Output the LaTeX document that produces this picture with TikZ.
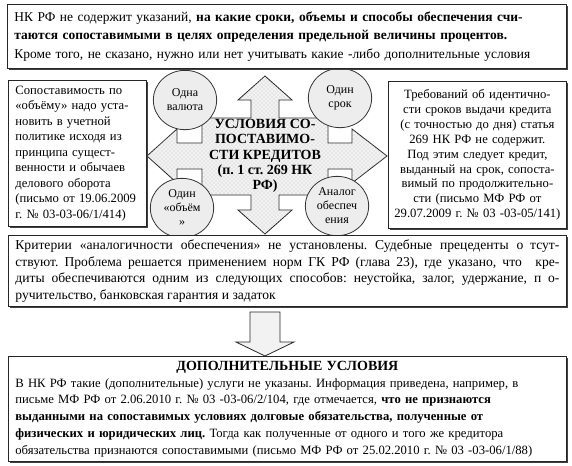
\documentclass[tikz,border=0pt]{standalone}
\usepackage{fontspec}
\setmainfont{Liberation Serif}
\usetikzlibrary{shapes.geometric,shadows,patterns,positioning}
\frenchspacing

\begin{document}
\begin{tikzpicture}[x=0.75pt,y=-0.75pt,
  box/.style={draw=black!85, fill=white, line width=0.6pt, inner ysep=2pt,
    drop shadow={shadow xshift=1.1pt, shadow yshift=-1.1pt, fill=black!75, opacity=1}},
  bubble/.style={ellipse, draw=black!80, fill=gray!14, line width=0.6pt,
    minimum width=47.5pt, minimum height=44.5pt, inner sep=0pt, align=center,
    font=\fontsize{9}{10.5}\selectfont},
  blockarrow/.style={draw=black!85, line width=0.6pt, fill=gray!10}]
\useasboundingbox (0,0) rectangle (572,465);

% the four-way arrow in the middle
\filldraw[blockarrow] (265,76) -- (292,100) -- (279,100) -- (279,118) -- (328,118)
  -- (328,143) -- (352,143) -- (352,129) -- (387,156) -- (352,183) -- (352,169)
  -- (328,169) -- (328,195) -- (279,195) -- (279,210) -- (292,210) -- (265,234)
  -- (238,210) -- (251,210) -- (251,195) -- (202,195) -- (202,169) -- (177,169)
  -- (177,183) -- (147,156) -- (177,129) -- (177,143) -- (202,143) -- (202,118)
  -- (251,118) -- (251,100) -- (238,100) -- cycle;
\path[pattern=crosshatch dots, pattern color=gray!45] (265,76) -- (292,100) -- (279,100) -- (279,118) -- (328,118)
  -- (328,143) -- (352,143) -- (352,129) -- (387,156) -- (352,183) -- (352,169)
  -- (328,169) -- (328,195) -- (279,195) -- (279,210) -- (292,210) -- (265,234)
  -- (238,210) -- (251,210) -- (251,195) -- (202,195) -- (202,169) -- (177,169)
  -- (177,183) -- (147,156) -- (177,129) -- (177,143) -- (202,143) -- (202,118)
  -- (251,118) -- (251,100) -- (238,100) -- cycle;

\node[align=center, font=\bfseries\fontsize{10.5}{11.4}\selectfont] (core) at (265,156)
  {УСЛОВИЯ СО-\\ПОСТАВИМО-\\СТИ КРЕДИТОВ\\(п. 1 ст. 269 НК\\РФ)};

\node[bubble] (valuta) at (185,100) {Одна\\валюта};
\node[bubble] (srok) at (340,98) {Один\\срок};
\node[bubble] (obem) at (182,208) {Один\\«объём\\»};
\node[bubble] (zalog) at (337,206) {Аналог\\обеспеч\\ения};

% boxes
\node[box, anchor=north west, minimum width=419.25pt, minimum height=48pt,
  text width=408.75pt, inner xsep=5.25pt, align=left,
  font=\fontsize{10.1}{13.8}\selectfont] (top) at (7,4)
  {НК РФ не содержит указаний, \textbf{на какие сроки, объемы и способы обеспечения счи-}\\
   \textbf{таются сопоставимыми в целях определения предельной величины процентов.}\\
   Кроме того, не сказано, нужно или нет учитывать какие -либо дополнительные условия};

\node[box, anchor=north west, minimum width=103.5pt, minimum height=109.5pt,
  text width=93pt, inner xsep=5.25pt, align=left,
  font=\fontsize{9.5}{11.6}\selectfont] (volume) at (8,80)
  {Сопоставимость по\\«объёму» надо уста-\\новить в учетной\\политике исходя из\\принципа сущест-\\венности и обычаев\\делового оборота\\(письмо от 19.06.2009\\г. №~03-03-06/1/414)};

\node[box, anchor=north west, minimum width=133.5pt, minimum height=110.25pt,
  text width=126pt, inner xsep=3.75pt, align=center,
  font=\fontsize{9.5}{11.2}\selectfont] (term) at (388,81)
  {Требований об идентично-\\сти сроков выдачи кредита\\(с точностью до дня) статья\\269 НК РФ не содержит.\\Под этим следует кредит,\\выданный на срок, сопоста-\\вимый по продолжительно-\\сти (письмо МФ РФ от\\29.07.2009 г. №~03 -03-05/141)};

\node[box, anchor=north west, minimum width=418.5pt, minimum height=53.25pt,
  text width=408pt, inner xsep=5.25pt, align=justify,
  font=\fontsize{10.2}{12.4}\selectfont] (secure) at (8,235)
  {Критерии «аналогичности обеспечения» не установлены. Судебные прецеденты о\enspace тсут-\linebreak
   ствуют. Проблема решается применением норм ГК РФ (глава 23), где указано, что\quad кре-\linebreak
   диты обеспечиваются одним из следующих способов: неустойка, залог, удержание, п\enspace о-\linebreak
   ручительство, банковская гарантия и задаток\par};

\filldraw[blockarrow] (250,312) -- (280,312) -- (280,342) -- (294,342) -- (265,356)
  -- (236,342) -- (250,342) -- cycle;

\node[box, anchor=north west, minimum width=418.5pt, minimum height=79pt,
  text width=408pt, inner xsep=5.25pt, align=left,
  font=\fontsize{9.5}{12.6}\selectfont] (extra) at (8,356)
  {\centerline{\bfseries\fontsize{10.5}{12.6}\selectfont ДОПОЛНИТЕЛЬНЫЕ УСЛОВИЯ}
   В НК РФ такие (дополнительные) услуги не указаны. Информация приведена, например, в\\
   письме МФ РФ от 2.06.2010 г. №~03 -03-06/2/104, где отмечается, \textbf{что не признаются}\\
   \textbf{выданными на сопоставимых условиях долговые обязательства, полученные от}\\
   \textbf{физических и юридических лиц.} Тогда как полученные от одного и того же кредитора\\
   обязательства признаются сопоставимыми (письмо МФ РФ от 25.02.2010 г. №~03 -03-06/1/88)};
\end{tikzpicture}
\end{document}
